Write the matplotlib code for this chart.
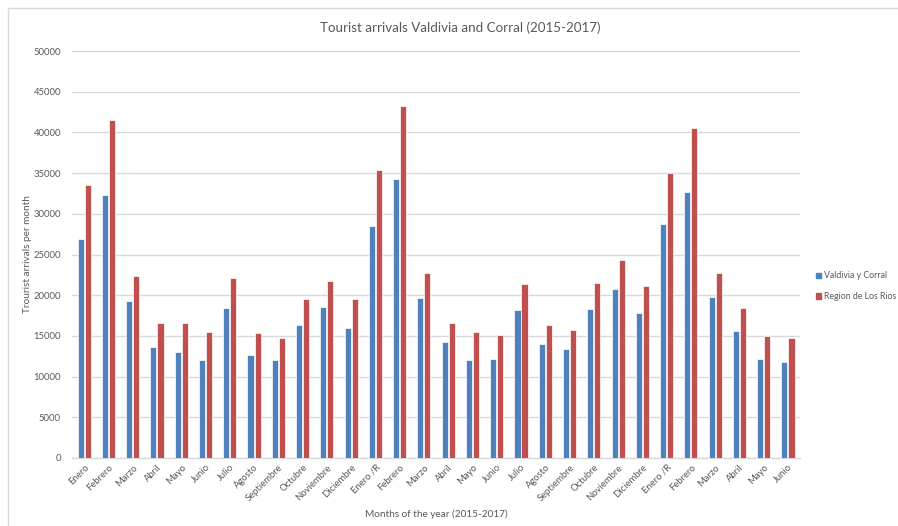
import matplotlib.pyplot as plt
import matplotlib.patches as mpatches
import numpy as np

plt.rcParams['font.family'] = ['Lato', 'DejaVu Sans']

MONTHS = ["Enero", "Febrero", "Marzo", "Abril", "Mayo", "Junio", "Julio",
          "Agosto", "Septiembre", "Octubre", "Noviembre", "Diciembre",
          "Enero /R", "Febrero", "Marzo", "Abril", "Mayo", "Junio", "Julio",
          "Agosto", "Septiembre", "Octubre", "Noviembre", "Diciembre",
          "Enero /R", "Febrero", "Marzo", "Abril", "Mayo", "Junio"]

VALDIVIA = [26850, 32270, 19250, 13630, 13010, 12070, 18390, 12600, 11990,
            16300, 18600, 15930, 28490, 34240, 19700, 14200, 12070, 12190,
            18230, 13960, 13420, 18350, 20810, 17860, 28700, 32640, 19750,
            15640, 12190, 11780]

LOS_RIOS = [33500, 41540, 22410, 16630, 16630, 15440, 22090, 15310, 14780,
            19580, 21800, 19500, 35430, 43230, 22700, 16540, 15520, 15070,
            21430, 16340, 15760, 21550, 24380, 21180, 35060, 40600, 22780,
            18390, 14940, 14780]

BLUE = '#4F81BD'
RED = '#C0504D'
GRAY = '#595959'

fig = plt.figure(figsize=(8.98, 5.26), dpi=100)
ax = fig.add_axes([0.0802, 0.1293, 0.8108, 0.7737])

x = np.arange(len(MONTHS))
w = 0.25
ax.bar(x - 0.145, VALDIVIA, w, color=BLUE, edgecolor='white', linewidth=0.5,
       label="Valdivia y Corral", zorder=3)
ax.bar(x + 0.145, LOS_RIOS, w, color=RED, edgecolor='white', linewidth=0.5,
       label="Region de Los Rios", zorder=3)

ax.set_xlim(-0.5, len(MONTHS) - 0.5)
ax.set_ylim(0, 50000)
ax.set_yticks(range(0, 50001, 5000))
ax.yaxis.grid(True, color='#D9D9D9', linewidth=1, zorder=0)
for s in ['top', 'right', 'left']:
    ax.spines[s].set_visible(False)
ax.spines['bottom'].set_color('#D9D9D9')
ax.spines['bottom'].set_linewidth(1)
ax.tick_params(axis='both', length=0, colors=GRAY, labelsize=6.8)
ax.tick_params(axis='y', pad=8)
ax.set_xticks(x)
ax.set_xticklabels(MONTHS, rotation=45, ha='right', rotation_mode='anchor')

fig.text(460 / 898, 1 - 28 / 526, "Tourist arrivals Valdivia and Corral (2015-2017)",
         color=GRAY, fontsize=9.6, ha='center', va='center')
ax.set_ylabel("Trourist arrivals per month", color=GRAY, fontsize=7.2, labelpad=1)
ax.set_xlabel("Months of the year (2015-2017)", color=GRAY, fontsize=7.2, labelpad=5)

handles = [mpatches.Patch(color=BLUE, label="Valdivia y Corral"),
           mpatches.Patch(color=RED, label="Region de Los Rios")]
leg = fig.legend(handles=handles, loc='center left', bbox_to_anchor=(0.902, 0.456),
                 frameon=False, fontsize=6.3, handlelength=0.6, handleheight=0.6,
                 handletextpad=0.3, labelspacing=1.3, borderpad=0.2)
for t in leg.get_texts():
    t.set_color(GRAY)

# chart area border (Excel style)
fig.add_artist(mpatches.Rectangle((8 / 898, -0.1), 1.2, 1.1 - 8 / 526,
                                  transform=fig.transFigure, fill=False,
                                  edgecolor='#D9D9D9', linewidth=1))

fig.savefig("out.png", dpi=100)
